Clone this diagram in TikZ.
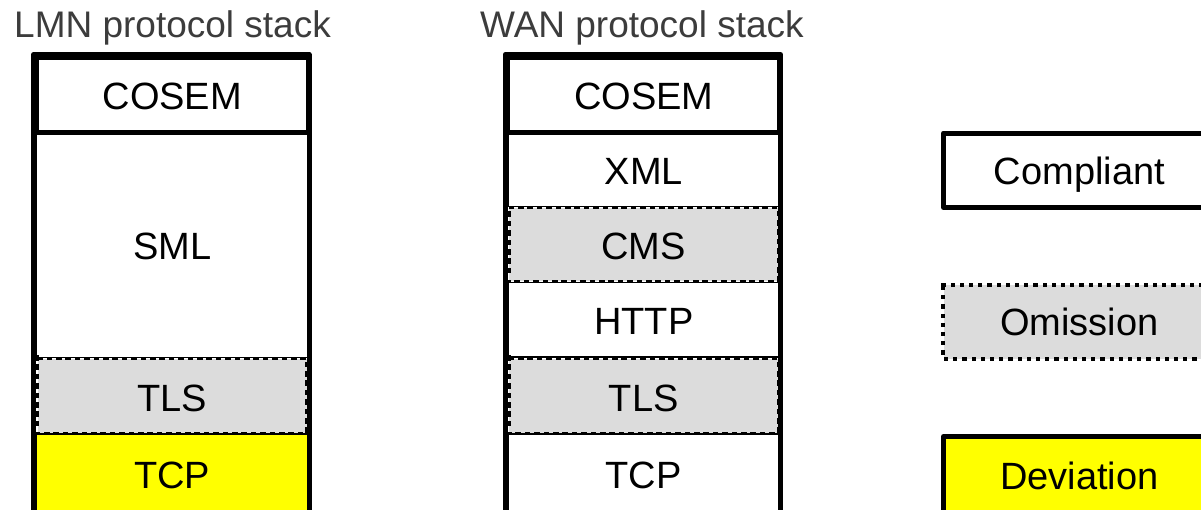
\documentclass[tikz,border=0pt]{standalone}
\usepackage{fontspec}
\usetikzlibrary{decorations.markings}
\setmainfont{Liberation Sans}
\definecolor{omitgray}{RGB}{220,220,220}
\definecolor{devyellow}{RGB}{255,255,0}
\definecolor{titlegray}{RGB}{60,60,60}
\begin{document}
\begin{tikzpicture}[x=1pt,y=-1pt,
  every node/.style={font=\fontsize{38}{42}\selectfont, inner sep=0pt, rectangle},
  layerbox/.style={draw=black, line width=1.5pt, fill=white, minimum width=272pt, text height=30pt, text depth=0pt},
  topbox/.style={layerbox, line width=5pt, line join=round},
  omitbox/.style={fill=omitgray, minimum width=269pt, text height=30pt, text depth=0pt},
  omitdash/.style={postaction={decorate}, decoration={markings,
      mark=between positions 0 and 1 step 9.4pt with {\fill[black] (-0.4pt,-1.6pt) rectangle (5.2pt,1.6pt);}}},
  devbox/.style={layerbox, fill=devyellow},
  framebox/.style={draw=black, line width=5pt, line join=round},
  legcomp/.style={draw=black, line width=5pt, line join=round, fill=white, minimum width=272pt, text height=28pt, text depth=0pt},
  legomit/.style={fill=omitgray, minimum width=272pt, text height=28pt, text depth=0pt},
  legdash/.style={postaction={decorate}, decoration={markings,
      mark=between positions 0 and 1 step 9.2pt with {\fill[black] (-2pt,-2pt) rectangle (2.2pt,2pt);}}},
  legdev/.style={legcomp, fill=devyellow},
  stacktitle/.style={text=titlegray, anchor=base west, font=\fontsize{37}{40}\selectfont}]
\useasboundingbox (0,0) rectangle (1201,509);
\clip (0,0) rectangle (1201,509);
\fill[white] (0,0) rectangle (1201,509);

% titles
\node[stacktitle] (lmntitle) at (14,37) {LMN protocol stack};
\node[stacktitle] (wantitle) at (480,37) {WAN protocol stack};

% LMN stack
\node[layerbox, minimum height=225.5pt] (sml1) at (172.25,244.75) {SML};
\node[omitbox, minimum height=74pt] (tls1) at (172.25,396) {TLS};
\path[omitdash] (tls1.north west) -- (tls1.north east) -- (tls1.south east) -- (tls1.south west) -- cycle;
\node[devbox, minimum height=78pt] (tcp1) at (172.25,473) {TCP};
\node[topbox, minimum height=75pt] (cosem1) at (172.25,94.5) {COSEM};
\draw[framebox] (cosem1.north west) rectangle (tcp1.south east);

% WAN stack
\node[layerbox, minimum height=74.5pt] (xml2) at (643.75,169.25) {XML};
\node[layerbox, minimum height=74.5pt] (http2) at (643.75,319.75) {HTTP};
\node[layerbox, minimum height=78pt] (tcp2) at (643.75,473) {TCP};
\node[omitbox, minimum height=73pt] (cms2) at (643.75,244.5) {CMS};
\path[omitdash] (cms2.north west) -- (cms2.north east) -- (cms2.south east) -- (cms2.south west) -- cycle;
\node[omitbox, minimum height=74pt] (tls2) at (643.75,396) {TLS};
\path[omitdash] (tls2.north west) -- (tls2.north east) -- (tls2.south east) -- (tls2.south west) -- cycle;
\node[topbox, minimum height=75pt] (cosem2) at (643.75,94.5) {COSEM};
\draw[framebox] (cosem2.north west) rectangle (tcp2.south east);

% legend
\node[legcomp, minimum height=74.5pt] (compliant) at (1079.5,170.25) {Compliant};
\node[legomit, minimum height=74pt] (omission) at (1079.5,321.7) {Omission};
\path[legdash] (omission.north west) -- (omission.north east) -- (omission.south east) -- (omission.south west) -- cycle;
\node[legdev, minimum height=78pt, text height=27pt] (deviation) at (1079.5,475.5) {Deviation};
\end{tikzpicture}
\end{document}
